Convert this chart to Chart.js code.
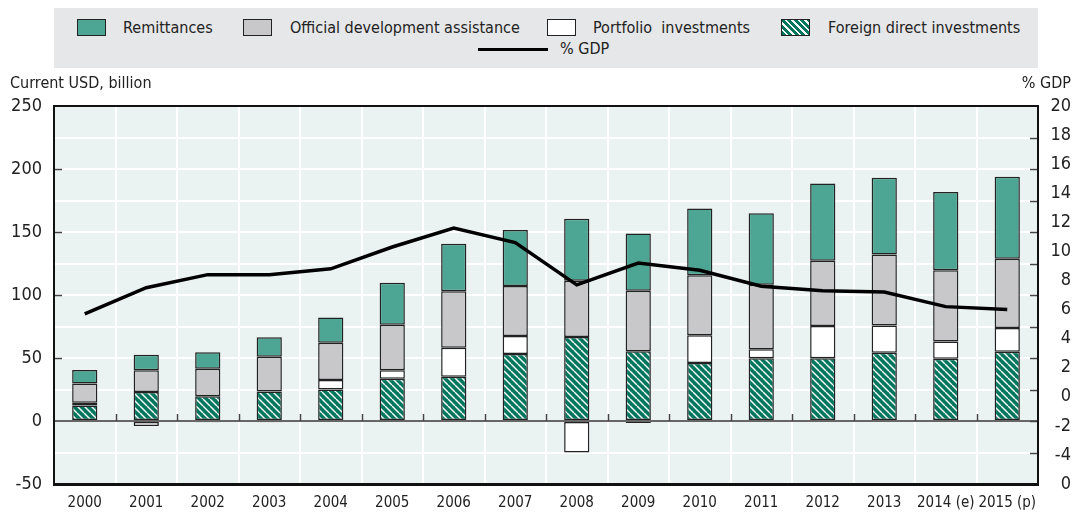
<!DOCTYPE html>
<html>
<head>
<meta charset="utf-8">
<script src="https://cdn.jsdelivr.net/npm/chart.js@4.4.1/dist/chart.umd.min.js"></script>
<style>
  html,body{margin:0;padding:0;background:#fff;}
  #wrap{position:relative;width:1077px;height:517px;font-family:"Liberation Sans Narrow","DejaVu Sans Condensed",sans-serif;color:#222;}
  #legend{position:absolute;left:54px;top:8px;width:984px;height:60px;background:#e6e7e8;}
  .it{position:absolute;font-size:16px;line-height:20px;white-space:nowrap;}
  .bx{position:absolute;width:29px;height:17px;border:1px solid #222;box-sizing:border-box;}
  canvas{position:absolute;left:0;top:0;}
</style>
</head>
<body>
<div id="wrap">
  <canvas id="c" width="1077" height="517"></canvas>
  <div id="legend">
    <div class="bx" style="left:23px;top:11px;background:#4da593"></div>
    <div class="it" style="left:69px;top:10px">Remittances</div>
    <div class="bx" style="left:189px;top:11px;background:#c8c8ca"></div>
    <div class="it" style="left:236px;top:10px">Official development assistance</div>
    <div class="bx" style="left:493px;top:11px;background:#fff"></div>
    <div class="it" style="left:539px;top:10px">Portfolio&nbsp; investments</div>
    <div class="bx" style="left:727px;top:11px;background:repeating-linear-gradient(45deg,#00765e 0 3px,#fff 3px 4.6px)"></div>
    <div class="it" style="left:774px;top:10px">Foreign direct investments</div>
    <div style="position:absolute;left:424px;top:40px;width:70px;height:3px;background:#000"></div>
    <div class="it" style="left:506px;top:31px">% GDP</div>
  </div>
</div>
<script>
const years = ['2000','2001','2002','2003','2004','2005','2006','2007','2008','2009','2010','2011','2012','2013','2014 (e)','2015 (p)'];
const fdi       = [12.3, 23.1, 19.7, 23.4, 25.0, 33.5, 35.1, 53.2, 66.7, 55.3, 46.0, 49.8, 49.8, 54.2, 49.4, 55.0];
const portfolio = [2.1, -4.0, -1.0, -1.0, 7.5, 6.7, 23.1, 14.3, -25.0, -1.6, 22.1, 7.1, 25.6, 21.6, 13.6, 18.9];
const oda       = [15.4, 17.1, 21.8, 27.6, 29.7, 36.1, 44.7, 39.7, 44.7, 48.1, 47.5, 51.3, 51.7, 56.3, 56.6, 54.8];
const remit     = [10.6, 12.4, 13.0, 15.5, 19.9, 33.5, 37.8, 44.3, 49.2, 45.5, 53.0, 56.6, 61.4, 60.9, 62.2, 65.1];
const gdpPct    = [5.7, 7.5, 8.4, 8.4, 8.8, 10.3, 11.6, 10.6, 7.7, 9.2, 8.7, 7.6, 7.3, 7.2, 6.2, 6.0];
const leftTicks = [250, 200, 150, 100, 50, 0, -50];

const FONT = '"Liberation Sans Narrow","DejaVu Sans Condensed",sans-serif';
const canvas = document.getElementById('c');
const ctx = canvas.getContext('2d');

function hatch(){
  const s = 7;
  const c = document.createElement('canvas'); c.width = s; c.height = s;
  const g = c.getContext('2d');
  g.fillStyle = '#00765e'; g.fillRect(0,0,s,s);
  g.strokeStyle = '#ffffff'; g.lineWidth = 1.4;
  for (const o of [-s, 0, s]) { g.beginPath(); g.moveTo(o,0); g.lineTo(o+s,s); g.stroke(); }
  return ctx.createPattern(c,'repeat');
}

const decor = {
  id: 'decor',
  beforeDraw(chart){
    const {ctx, chartArea:a} = chart;
    ctx.save();
    ctx.fillStyle = '#ebf3f2';
    ctx.fillRect(a.left, a.top, a.right-a.left, a.bottom-a.top);
    ctx.restore();
  },
  afterDatasetsDraw(chart){
    const {ctx, chartArea:a, scales} = chart;
    const y = scales.y;
    ctx.save();
    ctx.strokeStyle = '#444'; ctx.lineWidth = 1.5;
    const y0 = y.getPixelForValue(0);
    const n = years.length, w = (a.right - a.left)/n;
    for (let i=1;i<n;i++){
      const px = Math.round(a.left + i*w) + 0.5;
      ctx.beginPath(); ctx.moveTo(px, y0); ctx.lineTo(px, y0-7); ctx.stroke();
    }
    for (const v of [200,150,100,50]){
      const py = Math.round(y.getPixelForValue(v))+0.5;
      ctx.beginPath(); ctx.moveTo(a.left, py); ctx.lineTo(a.left+8, py); ctx.stroke();
    }
    for (let v=225; v>-50; v-=25){
      const py = Math.round(y.getPixelForValue(v))+0.5;
      ctx.beginPath(); ctx.moveTo(a.right-8, py); ctx.lineTo(a.right, py); ctx.stroke();
    }
    ctx.restore();
  },
  afterDraw(chart){
    const {ctx, chartArea:a} = chart;
    ctx.save();
    ctx.strokeStyle = '#111'; ctx.lineWidth = 2;
    ctx.strokeRect(a.left, a.top, a.right-a.left, a.bottom-a.top);
    ctx.lineWidth = 3;
    ctx.beginPath(); ctx.moveTo(a.left-1, a.bottom+0.5); ctx.lineTo(a.right+1, a.bottom+0.5); ctx.stroke();
    ctx.fillStyle = '#222';
    ctx.font = '16px ' + FONT;
    ctx.textBaseline = 'middle';
    ctx.textAlign = 'left';
    ctx.fillText('Current USD, billion', 10, 84);
    ctx.textAlign = 'right';
    ctx.fillText('% GDP', 1071, 84);
    ctx.restore();
  }
};

const barCommon = {type:'bar', yAxisID:'y', order:1, borderColor:'#222', borderWidth:1.5, borderSkipped:false, barPercentage:0.41, categoryPercentage:1};

new Chart(ctx, {
  data: {
    labels: years,
    datasets: [
      Object.assign({label:'% GDP', type:'line', data:gdpPct, yAxisID:'y2', order:0, borderColor:'#000', borderWidth:3.5, pointRadius:0, tension:0, fill:false}),
      Object.assign({label:'Foreign direct investments', data:fdi, backgroundColor:hatch()}, barCommon),
      Object.assign({label:'Portfolio investments', data:portfolio, backgroundColor:'#ffffff'}, barCommon),
      Object.assign({label:'Official development assistance', data:oda, backgroundColor:'#c8c8ca'}, barCommon),
      Object.assign({label:'Remittances', data:remit, backgroundColor:'#4da593'}, barCommon)
    ]
  },
  options: {
    responsive:false,
    animation:false,
    layout:{padding:{top:106, right:6, left:0, bottom:0}},
    plugins:{legend:{display:false}, tooltip:{enabled:false}},
    scales:{
      x:{
        stacked:true,
        grid:{color:'#ffffff', lineWidth:2, drawTicks:false, tickLength:0, offset:true},
        border:{display:false},
        ticks:{color:'#222', font:{family:FONT, size:15}, padding:10, maxRotation:0, autoSkip:false},
        afterFit(s){ s.height = 33; }
      },
      y:{
        stacked:true, position:'left', min:-50, max:250,
        ticks:{stepSize:25, color:'#222', font:{family:FONT, size:18}, padding:12,
          callback:(v)=> leftTicks.includes(v) ? String(v) : ''},
        grid:{drawTicks:false, tickLength:0, lineWidth:2,
          color:(c)=> c.tick && c.tick.value === 0 ? '#666' : '#ffffff'},
        border:{display:false},
        afterFit(s){ s.width = 54; }
      },
      y2:{
        position:'right', min:-6, max:20,
        ticks:{stepSize:2, color:'#222', font:{family:FONT, size:18}, crossAlign:'far', padding:10,
          callback:(v)=> v === -6 ? '0' : String(v)},
        grid:{drawOnChartArea:false, drawTicks:false, tickLength:0},
        border:{display:false},
        afterFit(s){ s.width = 33; }
      }
    }
  },
  plugins:[decor]
});
</script>
</body>
</html>
